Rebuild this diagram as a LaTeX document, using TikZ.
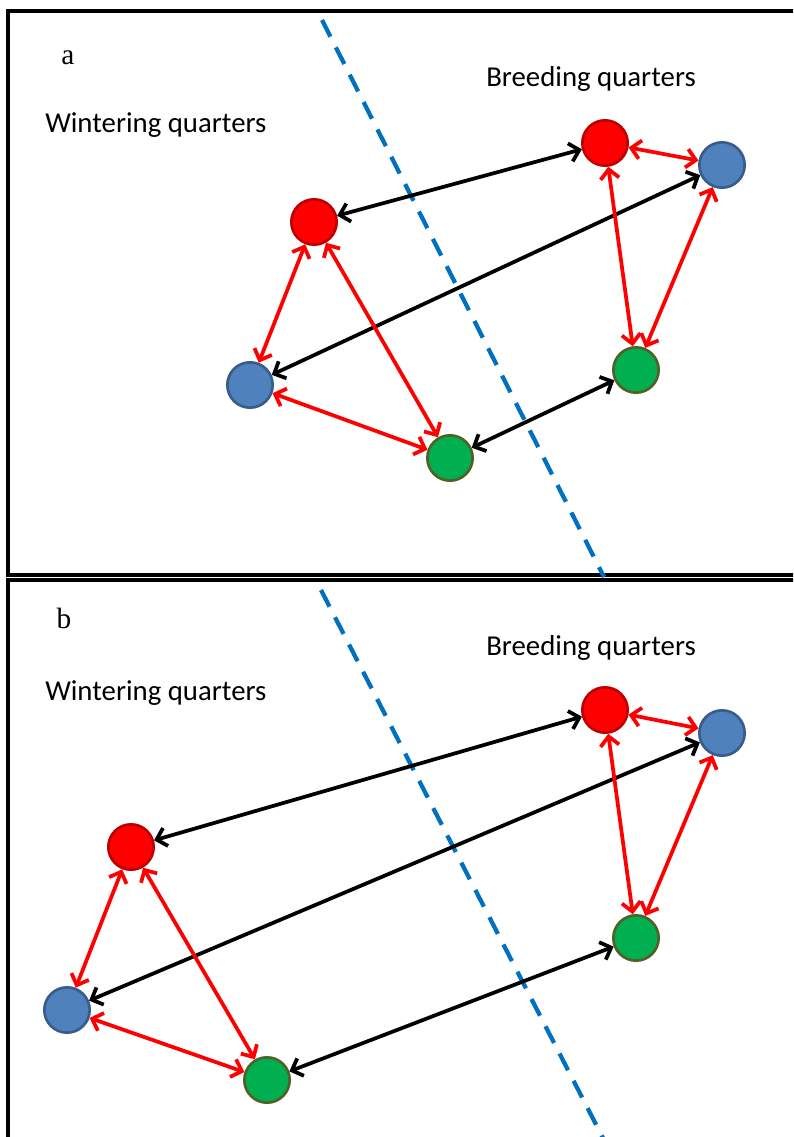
\documentclass[tikz,border=0pt]{standalone}
\usepackage{fontspec}
\setmainfont{Liberation Serif}
\setsansfont{Carlito}
\usetikzlibrary{arrows.meta}
\definecolor{redfill}{HTML}{FF0000}
\definecolor{redline}{HTML}{C00000}
\definecolor{bluefill}{HTML}{4F81BD}
\definecolor{blueline}{HTML}{385D8A}
\definecolor{greenfill}{HTML}{00B050}
\definecolor{greenline}{HTML}{4F6228}
\definecolor{divider}{HTML}{0070C0}
\tikzset{
  site/.style={circle,minimum size=34pt,inner sep=0pt,line width=2pt},
  redsite/.style={site,fill=redfill,draw=redline},
  bluesite/.style={site,fill=bluefill,draw=blueline},
  greensite/.style={site,fill=greenfill,draw=greenline},
  link/.style={line width=2.8pt,{Straight Barb[length=7pt,width=14pt]}-{Straight Barb[length=7pt,width=14pt]}},
  migration/.style={link,draw=black},
  local/.style={link,draw=redfill},
  panel/.style={draw=black,line width=2.6pt},
  boundary/.style={draw=divider,line width=3.2pt,dash pattern=on 14pt off 9pt},
  region/.style={font=\sffamily\fontsize{21.6}{26}\selectfont,anchor=west,inner sep=0pt},
  tag/.style={font=\fontsize{22}{26}\selectfont,inner sep=0pt}
}
\begin{document}
\begin{tikzpicture}[x=0.75pt,y=-0.75pt]
\useasboundingbox (0,0) rectangle (793,1137);
\clip (0,0) rectangle (793,1137);
\fill[white] (0,0) rectangle (793,1137);

% panel frames
\draw[panel] (8,11) rectangle (820,575);
\draw[panel] (8,580) rectangle (820,1160);

% ---------- panel a ----------
\draw[boundary] (322,20) -- (604,577);
\node[tag] (la) at (68,58) {a};
\node[region] (wqa) at (45,125) {Wintering quarters};
\node[region] (bqa) at (486,79) {Breeding quarters};

\node[redsite]   (wra) at (314,222) {};
\node[bluesite]  (wba) at (250,385) {};
\node[greensite] (wga) at (450,458) {};
\node[redsite]   (bra) at (605,143) {};
\node[bluesite]  (bba) at (722,165) {};
\node[greensite] (bga) at (636,370) {};

\draw[migration] (wra) -- (bra);
\draw[migration] (wba) -- (bba);
\draw[migration] (wga) -- (bga);
\draw[local] (wra) -- (wba);
\draw[local] (wra) -- (wga);
\draw[local] (wba) -- (wga);
\draw[local] (bra) -- (bba);
\draw[local] (bra) -- (bga);
\draw[local] (bba) -- (bga);

% ---------- panel b ----------
\draw[boundary] (321,590) -- (604,1140);
\node[tag] (lb) at (64,618) {b};
\node[region] (wqb) at (45,693) {Wintering quarters};
\node[region] (bqb) at (486,648) {Breeding quarters};

\node[redsite]   (wrb) at (131,847) {};
\node[bluesite]  (wbb) at (67,1010) {};
\node[greensite] (wgb) at (267,1080) {};
\node[redsite]   (brb) at (605,710) {};
\node[bluesite]  (bbb) at (722,733) {};
\node[greensite] (bgb) at (636,938) {};

\draw[migration] (wrb) -- (brb);
\draw[migration] (wbb) -- (bbb);
\draw[migration] (wgb) -- (bgb);
\draw[local] (wrb) -- (wbb);
\draw[local] (wrb) -- (wgb);
\draw[local] (wbb) -- (wgb);
\draw[local] (brb) -- (bbb);
\draw[local] (brb) -- (bgb);
\draw[local] (bbb) -- (bgb);
\end{tikzpicture}
\end{document}
